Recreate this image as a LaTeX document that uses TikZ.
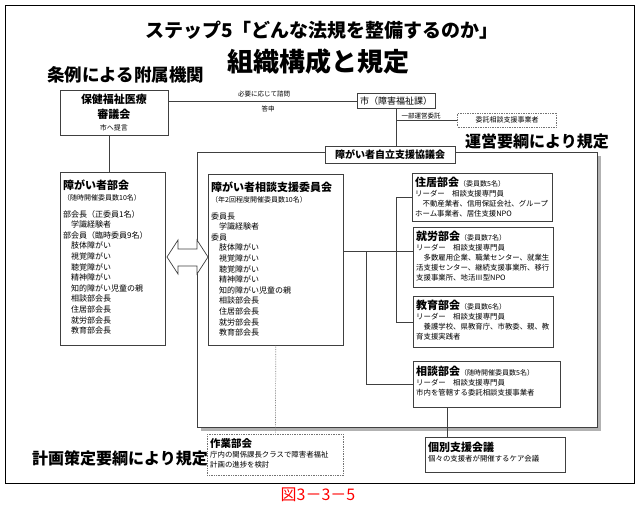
\documentclass[tikz,border=0pt]{standalone}
\usepackage{fontspec}
\setmainfont{Noto Sans CJK JP}
\usetikzlibrary{positioning,calc}
\tikzstyle{box}=[draw=black!75, line width=0.7pt, fill=white, inner sep=0pt, anchor=north west]
\tikzstyle{dotbox}=[box, densely dotted, draw=black!55]
\tikzstyle{txt}=[anchor=north west, align=left, inner sep=0pt, font=\fontsize{8}{10.6}\selectfont]
\tikzstyle{rtxt}=[txt, font=\fontsize{7.4}{10}\selectfont]
\tikzstyle{head}=[anchor=west, inner sep=0pt, font=\bfseries\fontsize{16}{18}\selectfont]
\tikzstyle{note}=[inner sep=0pt, font=\fontsize{6.5}{8}\selectfont]
\tikzstyle{line}=[draw=black!75, line width=0.7pt]
\newcommand{\ttl}[1]{{\bfseries\fontsize{11}{13}\selectfont #1}}
\newcommand{\sm}[1]{{\fontsize{7}{9}\selectfont #1}}

\begin{document}
\begin{tikzpicture}[x=1pt, y=-1pt]
  \useasboundingbox (0,0) rectangle (641,512);
  \draw [line width=1pt] (5,5) rectangle (634,483);

  % titles
  \node [font=\bfseries\fontsize{19}{21}\selectfont] at (322,30) (t1) {ステップ5「どんな法規を整備するのか」};
  \node [font=\bfseries\fontsize{26}{28}\selectfont] at (318,62) (t2) {組織構成と規定};
  \node [head, font=\bfseries\fontsize{17.5}{19}\selectfont] at (47,75) (jorei) {条例による附属機関};
  \node [head] at (465,141) (unei) {運営要綱により規定};
  \node [head] at (32,458) (keikaku) {計画策定要綱により規定};

  % council frame
  \fill [black!30] (201,156) rectangle (601,431);
  \draw [line, fill=white] (197,152) rectangle (597,427);

  \node [box, minimum width=108pt, minimum height=45pt] at (60,90) (shingi) {};
  \node [align=center, inner sep=0pt, font=\bfseries\fontsize{11}{15}\selectfont] at (114,113) (shingitxt)
    {保健福祉医療\\審議会\\[-3pt]\sm{\mdseries 市へ提言}};

  \node [box, anchor=center, minimum width=78pt, minimum height=15pt, font=\fontsize{9}{11}\selectfont] at (396,101) (shi) {市（障害福祉課）};
  \node [dotbox, anchor=center, minimum width=99pt, minimum height=14pt, font=\fontsize{7}{9}\selectfont] at (507,120) (itaku) {委託相談支援事業者};
  \node [box, anchor=center, minimum width=130pt, minimum height=17pt, font=\bfseries\fontsize{10}{12}\selectfont] at (390,155) (kyogi) {障がい者自立支援協議会};

  \node [note] at (264,94) (shimon) {必要に応じて諮問};
  \node [note] at (268,109) (toshin) {答申};
  \node [note] at (421,116) (ichibu) {一部運営委託};

  % left boxes
  \node [box, minimum width=105pt, minimum height=173pt] at (60,172) (bukai) {};
  \node [txt] at (63,180) (bukaitxt) {\ttl{障がい者部会}\\
    \sm{（随時開催委員数10名）}\\[6pt]
    部会長（正委員1名）\\
    　学識経験者\\
    部会員（臨時委員9名）\\
    　肢体障がい\\
    　視覚障がい\\
    　聴覚障がい\\
    　精神障がい\\
    　知的障がい児童の親\\
    　相談部会長\\
    　住居部会長\\
    　就労部会長\\
    　教育部会長};

  \node [box, minimum width=135pt, minimum height=171pt] at (208,174) (iin) {};
  \node [txt] at (211,182) (iintxt) {\ttl{障がい者相談支援委員会}\\
    \sm{（年2回程度開催委員数10名）}\\[6pt]
    委員長\\
    　学識経験者\\
    委員\\
    　肢体障がい\\
    　視覚障がい\\
    　聴覚障がい\\
    　精神障がい\\
    　知的障がい児童の親\\
    　相談部会長\\
    　住居部会長\\
    　就労部会長\\
    　教育部会長};

  \draw [line, fill=white] (167,257) -- (178,240) -- (178,249) -- (197,249) -- (197,240) -- (208,257)
    -- (197,274) -- (197,266) -- (178,266) -- (178,274) -- cycle;

  % right boxes
  \node [box, minimum width=140pt, minimum height=48pt] at (412,173) (jukyo) {};
  \node [rtxt] at (415,177) (jukyotxt) {\ttl{住居部会}\sm{（委員数5名）}\\
    リーダー　相談支援専門員\\
    　不動産業者、信用保証会社、グループ\\
    ホーム事業者、居住支援NPO};

  \node [box, minimum width=140pt, minimum height=60pt] at (413,227) (shuro) {};
  \node [rtxt] at (416,231) (shurotxt) {\ttl{就労部会}\sm{（委員数7名）}\\
    リーダー　相談支援専門員\\
    　多数雇用企業、職業センター、就業生\\
    活支援センター、継続支援事業所、移行\\
    支援事業所、地活Ⅲ型NPO};

  \node [box, minimum width=140pt, minimum height=51pt] at (413,296) (kyoiku) {};
  \node [rtxt] at (416,300) (kyoikutxt) {\ttl{教育部会}\sm{（委員数6名）}\\
    リーダー　相談支援専門員\\
    　養護学校、県教育庁、市教委、親、教\\
    育支援実践者};

  \node [box, minimum width=147pt, minimum height=46pt] at (413,361) (sodan) {};
  \node [rtxt] at (416,366) (sodantxt) {\ttl{相談部会}\sm{（随時開催委員数5名）}\\
    リーダー　相談支援専門員\\
    市内を管轄する委託相談支援事業者};

  % bottom boxes
  \node [dotbox, minimum width=136pt, minimum height=41pt] at (207,434) (sagyo) {};
  \node [rtxt] at (210,438) (sagyotxt) {{\bfseries\fontsize{10.5}{13}\selectfont 作業部会}\\
    庁内の関係課長クラスで障害者福祉\\
    計画の進捗を検討};

  \node [box, minimum width=140pt, minimum height=35pt] at (425,437) (kobetsu) {};
  \node [rtxt] at (428,442) (kobetsutxt) {\ttl{個別支援会議}\\
    個々の支援者が開催するケア会議};

  \node [text=red, inner sep=0pt, font=\fontsize{16}{18}\selectfont] at (318,495) (fig) {図3－3－5};

  % connectors
  \coordinate (br1) at (396,251);
  \coordinate (br2) at (366,251);
  \coordinate (kb) at (447,0);
  \draw [line] (shingi.east |- shi.west) -- (shi.west);
  \draw [line] ([xshift=-5pt]shingi.south) -- ([xshift=-5pt]shingi.south |- bukai.north);
  \draw [line] (shi.south) -- (shi.south |- kyogi.north);
  \draw [line] (shi.south |- itaku.west) -- (itaku.west);
  \draw [line] (iin.east |- br1) -- (shuro.west |- br1);
  \draw [line] (br1 |- jukyo.west) -- (jukyo.west);
  \draw [line] (br1 |- jukyo.west) -- (br1 |- kyoiku.west) -- (kyoiku.west);
  \draw [line] (br2) -- (br2 |- sodan.west) -- (sodan.west);
  \draw [line] (sodan.south -| kb) -- (kobetsu.north -| kb);
  \draw [line, densely dotted, draw=black!50] (iin.south) -- (sagyo.north);
\end{tikzpicture}
\end{document}
